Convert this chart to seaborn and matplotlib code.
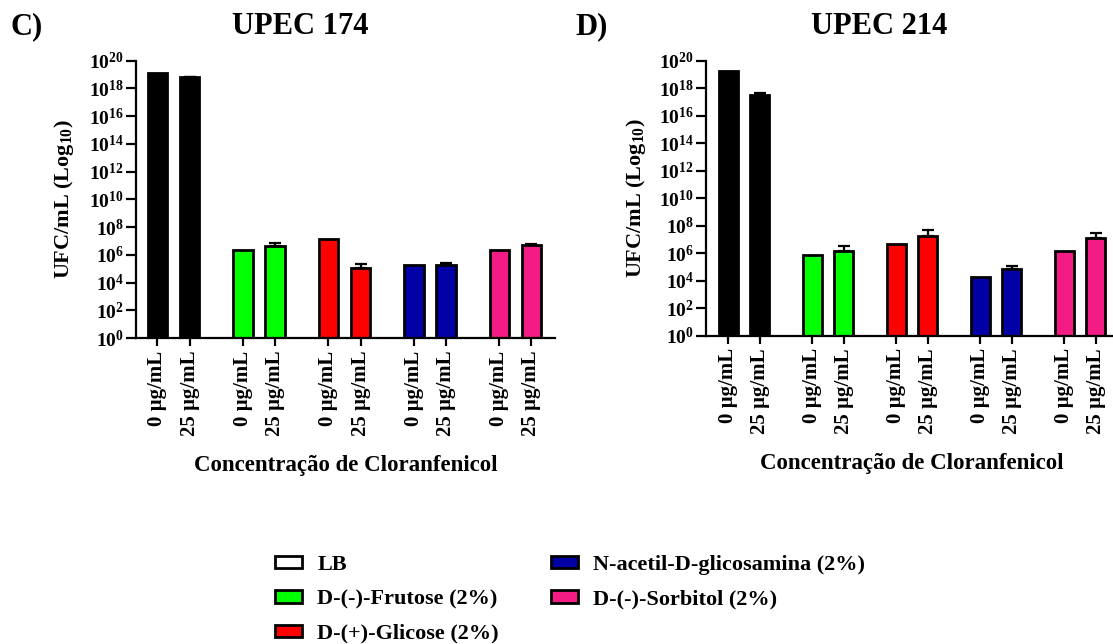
import numpy as np
import pandas as pd
import matplotlib
matplotlib.use("Agg")
import matplotlib.pyplot as plt
from matplotlib.patches import Patch
import seaborn as sns

# Culture media (legend order) and chloramphenicol concentrations
meios = ["LB", "D-(-)-Frutose (2%)", "D-(+)-Glicose (2%)",
         "N-acetil-D-glicosamina (2%)", "D-(-)-Sorbitol (2%)"]
concentracoes = ["0 µg/mL", "25 µg/mL"]
cores_barras = ["#000000", "#00FF00", "#FF0000", "#0000A6", "#F21C84"]
cores_legenda = ["#FFFFFF", "#00FF00", "#FF0000", "#0000A6", "#F21C84"]

# log10 UFC/mL, one [0 µg/mL, 25 µg/mL] pair per medium
upec174_log = [[19.10, 18.80], [6.35, 6.63], [7.14, 5.07], [5.27, 5.27], [6.35, 6.68]]
upec174_err = [[0.00, 0.05], [0.00, 0.20], [0.00, 0.30], [0.00, 0.12], [0.00, 0.08]]
upec214_log = [[19.22, 17.52], [5.89, 6.18], [6.67, 7.22], [4.24, 4.85], [6.18, 7.10]]
upec214_err = [[0.00, 0.12], [0.00, 0.37], [0.00, 0.47], [0.00, 0.20], [0.00, 0.34]]

y_ticks = list(range(0, 21, 2))

sns.set_theme(style="ticks")
plt.rcParams["font.family"] = ["Liberation Serif", "DejaVu Serif"]
plt.rcParams["font.weight"] = "bold"
plt.rcParams["axes.labelweight"] = "bold"
plt.rcParams["axes.titleweight"] = "bold"
plt.rcParams["mathtext.fontset"] = "custom"
plt.rcParams["mathtext.rm"] = "Liberation Serif:bold"
plt.rcParams["mathtext.it"] = "Liberation Serif:bold"
plt.rcParams["mathtext.bf"] = "Liberation Serif:bold"
for chave in ("text.color", "axes.labelcolor", "xtick.color", "ytick.color",
              "axes.edgecolor"):
    plt.rcParams[chave] = "black"

W, H = 1113, 644
fig = plt.figure(figsize=(W / 100, H / 100), dpi=100)
fig.patch.set_facecolor("white")


def tabela(valores, erros):
    linhas = []
    for g, meio in enumerate(meios):
        for j, conc in enumerate(concentracoes):
            linhas.append({
                "pos": g * 8 / 3 + j,
                "meio": meio,
                "conc": conc,
                "log_ufc": valores[g][j],
                "erro": erros[g][j],
            })
    return pd.DataFrame(linhas)


def painel(rect, df, titulo, xlim, title_x, ylab_x, xlab_y):
    ax = fig.add_axes(rect)
    sns.barplot(data=df, x="pos", y="log_ufc", hue="meio", hue_order=meios,
                palette=dict(zip(meios, cores_barras)), native_scale=True,
                dodge=False, errorbar=None, width=0.6, saturation=1,
                edgecolor="black", linewidth=2.0, legend=False, ax=ax)
    com_erro = df[df["erro"] > 0]
    ax.errorbar(com_erro["pos"], com_erro["log_ufc"],
                yerr=[np.zeros(len(com_erro)), com_erro["erro"]],
                fmt="none", ecolor="black", elinewidth=1.6, capsize=4.5,
                capthick=1.6, zorder=3)

    ax.set_xlim(*xlim)
    ax.set_ylim(0, 20)
    ax.set_yticks(y_ticks)
    ax.set_yticklabels([rf"$10^{{{t}}}$" for t in y_ticks], fontsize=14)
    ax.set_xticks(df["pos"])
    ax.set_xticklabels(df["conc"], rotation=90, fontsize=15, fontweight="bold")

    sns.despine(ax=ax)
    for s in ("left", "bottom"):
        ax.spines[s].set_linewidth(1.6)
        ax.spines[s].set_color("black")
    ax.tick_params(axis="y", length=7, width=1.6, pad=1.5, colors="black")
    ax.tick_params(axis="x", length=6, width=1.6, pad=3, colors="black")

    ax.set_ylabel(r"UFC/mL (Log$_{10}$)", fontsize=16, va="center")
    ax.yaxis.set_label_coords(ylab_x, 0.5)
    ax.set_xlabel("Concentração de Cloranfenicol", fontsize=16.5, va="center")
    ax.xaxis.set_label_coords(0.5, xlab_y)

    ax.set_title(titulo, fontsize=22, x=title_x, y=1.096, va="baseline", pad=0)
    return ax


ax1 = painel([136 / W, 1 - 338 / H, 419 / W, 277.3 / H],
             tabela(upec174_log, upec174_err), "UPEC 174",
             (-0.67, 12.40), (300 - 136) / 419, -0.172, -0.458)
ax2 = painel([706 / W, 1 - 335.7 / H, 412 / W, 275 / H],
             tabela(upec214_log, upec214_err), "UPEC 214",
             (-0.71, 12.37), (879 - 706) / 412, -0.17, -0.463)

fig.text(10 / W, 1 - 34 / H, "C)", fontsize=22, fontweight="bold", va="baseline")
fig.text(575 / W, 1 - 34 / H, "D)", fontsize=22, fontweight="bold", va="baseline")

handles = [Patch(facecolor=c, edgecolor="black", linewidth=2.0) for c in cores_legenda]
fig.legend(handles, meios, ncol=2, loc="upper left",
           bbox_to_anchor=(275 / W, 1 - 555 / H), frameon=False, fontsize=16,
           handlelength=1.2, handleheight=0.5, handletextpad=0.7,
           columnspacing=2.35, labelspacing=0.65, borderpad=0, borderaxespad=0)

fig.savefig("out.png", dpi=100, facecolor="white")
